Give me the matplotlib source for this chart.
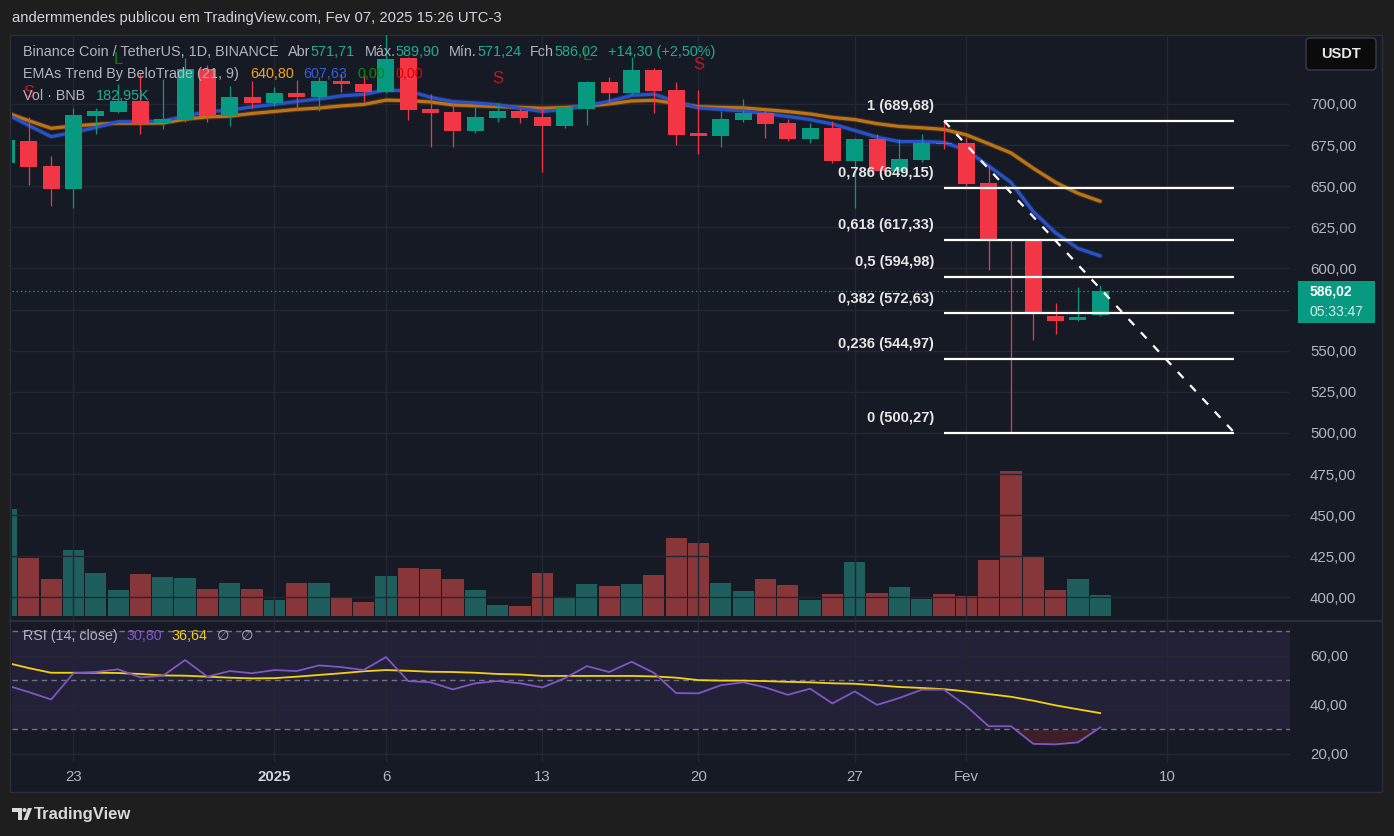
import matplotlib
matplotlib.use('Agg')
import matplotlib.pyplot as plt
import numpy as np
from matplotlib.patches import Rectangle, FancyBboxPatch, Polygon, Circle
from matplotlib.lines import Line2D
from matplotlib.transforms import IdentityTransform
from matplotlib.ticker import FuncFormatter

plt.rcParams['font.family'] = ['Liberation Sans', 'DejaVu Sans']
plt.rcParams['lines.scale_dashes'] = False

# ---------------- data (daily candles, Dec 20 2024 .. Feb 7 2025) ----------------
opens = [664.1, 677.5, 662.3, 648.5, 692.7, 695.3, 701.8, 688.3, 690.3, 721.3,
         692.7, 704.1, 700.8, 706.9, 704.4, 714.2, 712.2, 707.5, 727.8, 697.0,
         695.1, 683.8, 691.7, 695.7, 692.1, 686.8, 697.0, 713.6, 706.5, 720.7,
         708.5, 682.6, 680.5, 690.3, 694.7, 688.6, 678.7, 685.6, 665.5, 678.7,
         659.5, 666.0, 676.5, 676.5, 652.2, 617.6, 616.7, 571.1, 568.5, 571.71]
highs = [682.0, 691.9, 668.4, 697.4, 697.4, 712.0, 718.7, 715.0, 727.8, 723.7,
         710.9, 714.2, 710.5, 714.6, 716.6, 718.8, 718.7, 742.6, 728.5, 706.1,
         700.4, 698.0, 700.4, 697.4, 698.4, 698.8, 714.2, 716.6, 728.8, 721.7,
         713.6, 708.5, 695.9, 703.0, 696.4, 690.7, 688.3, 689.7, 679.5, 681.8,
         678.7, 681.8, 688.9, 680.1, 662.3, 617.9, 617.9, 579.2, 588.9, 589.90]
lows = [660.0, 650.8, 638.2, 637.0, 681.8, 694.7, 681.8, 684.8, 689.0, 689.2,
        686.6, 697.8, 699.0, 697.0, 695.9, 707.5, 701.4, 706.5, 690.3, 674.0,
        674.0, 682.2, 688.9, 688.6, 658.8, 685.6, 687.2, 700.0, 706.1, 694.3,
        675.1, 669.6, 674.0, 689.2, 679.5, 677.7, 676.5, 664.0, 637.0, 659.0,
        658.5, 665.0, 672.7, 649.7, 599.1, 500.27, 556.5, 560.2, 568.0, 571.24]
closes = [678.1, 661.9, 648.5, 693.3, 695.7, 702.0, 687.8, 690.9, 721.1, 692.7,
          704.1, 700.8, 706.7, 704.4, 714.2, 712.0, 707.5, 727.2, 696.4, 694.7,
          683.8, 692.1, 695.7, 691.7, 686.8, 698.0, 713.6, 706.5, 720.7, 707.9,
          681.2, 680.5, 690.9, 694.7, 687.8, 678.7, 685.6, 665.5, 678.7, 659.5,
          666.6, 676.5, 675.7, 651.4, 616.7, 617.0, 572.3, 568.3, 570.6, 586.02]
volume_k = [931, 505, 322, 574, 374, 226, 365, 339, 331, 235,
            287, 235, 139, 287, 287, 165, 122, 348, 418, 409,
            322, 226, 96, 87, 374, 157, 278, 261, 278, 357,
            679, 635, 287, 218, 322, 270, 139, 191, 470, 200,
            252, 148, 191, 174, 487, 1262, 522, 226, 322, 183]
ema21 = [694.8, 689.8, 685.2, 686.6, 687.6, 688.3, 688.3, 688.4, 690.7, 692.1,
         692.6, 694.2, 695.4, 696.7, 697.5, 698.8, 699.7, 702.3, 702.0, 701.2,
         699.4, 698.9, 698.4, 697.9, 697.4, 697.8, 698.6, 700.0, 701.8, 702.2,
         700.3, 698.3, 697.9, 697.6, 696.5, 695.4, 693.9, 691.8, 690.5, 688.0,
         686.3, 685.5, 684.5, 681.2, 675.8, 670.2, 660.9, 652.3, 645.7, 640.80]
ema9 = [693.9, 686.9, 680.1, 682.7, 685.7, 689.2, 689.2, 689.5, 692.7, 695.3,
        696.2, 698.2, 699.7, 701.5, 703.0, 704.9, 705.8, 708.5, 707.9, 704.0,
        701.4, 700.6, 699.5, 697.4, 695.4, 696.7, 699.1, 701.5, 705.2, 705.9,
        701.5, 697.6, 696.7, 695.7, 694.1, 692.4, 690.5, 687.8, 683.9, 679.8,
        677.1, 677.1, 676.6, 672.0, 662.3, 652.3, 634.5, 621.6, 612.2, 607.63]
rsi = [48.0, 45.2, 42.2, 52.9, 53.4, 54.5, 51.2, 51.8, 58.3, 51.5,
       53.8, 52.9, 54.2, 53.8, 56.1, 55.4, 54.2, 59.5, 49.7, 49.2,
       46.3, 48.8, 49.7, 48.8, 47.1, 50.8, 55.8, 53.4, 57.6, 53.1,
       44.8, 44.7, 48.0, 49.2, 47.1, 44.1, 46.6, 40.6, 45.5, 40.0,
       42.8, 46.2, 46.2, 39.5, 31.3, 31.3, 24.1, 23.9, 24.7, 30.80]
rsi_ma = [57.2, 55.0, 53.1, 53.1, 53.1, 53.0, 52.6, 52.0, 51.9, 51.5,
          51.1, 50.8, 50.9, 51.5, 52.2, 52.9, 53.7, 54.2, 53.9, 53.5,
          53.4, 53.1, 52.6, 52.4, 51.8, 51.8, 51.8, 51.8, 51.8, 51.6,
          51.1, 50.1, 49.9, 49.9, 49.7, 49.4, 49.2, 48.8, 48.6, 48.0,
          47.3, 46.9, 46.4, 45.5, 44.4, 43.3, 41.7, 39.8, 38.2, 36.64]
signal_idx = [1, 5, 22, 26, 31]
signal_txt = ['S', 'L', 'S', 'L', 'S']
fib_ratio = ['1', '0,786', '0,618', '0,5', '0,382', '0,236', '0']
fib_level = [689.68, 649.15, 617.33, 594.98, 572.63, 544.97, 500.27]
fib_start, fib_end = 42, 55
tick_pos = [3, 12, 17, 24, 31, 38, 43, 52]
tick_labels = ['23', '2025', '6', '13', '20', '27', 'Fev', '10']
price_ticks = [400, 425, 450, 475, 500, 525, 550, 575, 600, 625, 650, 675, 700]
rsi_ticks = [20, 40, 60]
last_price = 586.02

# ---------------- style ----------------
W, H = 1394, 836
FRAME = '#1e1e1e'
BG = '#161a25'
GRID = '#232734'
GRAY = '#b2b5be'
UP = '#089981'
DN = '#f23645'
VUP = '#1e5e5c'
VDN = '#87373a'
TEAL_T = '#22ab94'
FS = 10.8
HFS = 10.4

idx = np.arange(len(closes))
o = np.array(opens); c = np.array(closes); hi = np.array(highs); lo = np.array(lows)
up = c >= o

fig = plt.figure(figsize=(W / 100, H / 100), dpi=100)
fig.patch.set_facecolor(FRAME)
ID = IdentityTransform()

fig.patches.append(Rectangle((10, H - 792), 1372, 757, transform=ID, facecolor=BG,
                             edgecolor='#2a2e39', lw=1, zorder=-1))

XL, XR = 0.246, 57.5
fmt = FuncFormatter(lambda v, p: f"{v:.2f}".replace('.', ','))

main_rect = [12 / W, 1 - 620 / H, 1278 / W, 585 / H]
ax_vol = fig.add_axes(main_rect, zorder=1)
ax = fig.add_axes(main_rect, zorder=2)
for a in (ax_vol, ax):
    a.set_facecolor('none')
    a.set_xlim(XL, XR)
ax_vol.axis('off')
ax_vol.set_ylim(-35, 5061)
ax_vol.bar(idx, volume_k, width=0.95, color=[VUP if u else VDN for u in up], lw=0)

for s in ax.spines.values():
    s.set_visible(False)
ax.set_ylim(386.3, 741.9)
ax.set_yticks(price_ticks)
ax.yaxis.set_major_formatter(fmt)
ax.yaxis.tick_right()
ax.tick_params(axis='y', length=0, pad=14.4, labelsize=FS, labelcolor=GRAY)
ax.set_xticks(tick_pos)
ax.tick_params(axis='x', length=0, labelbottom=False)
ax.grid(True, color=GRID, lw=1)
ax.set_axisbelow(True)

# EMAs
ax.plot(idx, ema21, color='#be7314', lw=3.8, alpha=0.25, zorder=2, solid_capstyle='round')
ax.plot(idx, ema21, color='#be7314', lw=2.3, zorder=2.1, solid_capstyle='round')
ax.plot(idx, ema9, color='#2a52c8', lw=3.8, alpha=0.25, zorder=2, solid_capstyle='round')
ax.plot(idx, ema9, color='#2a52c8', lw=2.3, zorder=2.1, solid_capstyle='round')

# candles
ccols = [UP if u else DN for u in up]
ax.vlines(idx, lo, hi, colors=ccols, lw=0.9, zorder=3)
body_lo = np.minimum(o, c)
body_h = np.maximum(np.abs(c - o), 0.7)
ax.bar(idx, body_h, bottom=body_lo, width=0.76, color=ccols, lw=0, zorder=3.1)

# L / S signals
for i, t in zip(signal_idx, signal_txt):
    ax.annotate(t, xy=(i, hi[i]), xytext=(0, 18), textcoords='offset points',
                ha='center', va='center', fontsize=12,
                color='#0d7a0d' if t == 'L' else '#b71c1c', zorder=4)

# last price dotted line
ax.axhline(last_price, color=UP, lw=0.9, ls=(0, (1, 2)), zorder=2.5)

# fibonacci
for r, lv in zip(fib_ratio, fib_level):
    ax.plot([fib_start, fib_end], [lv, lv], color='white', lw=1.6, zorder=5, solid_capstyle='butt')
    ax.annotate(f"{r} ({lv:.2f})".replace('.', ','), xy=(fib_start, lv), xytext=(-7.2, 10.5),
                textcoords='offset points', ha='right', va='center', fontsize=10.6,
                fontweight='bold', color='#e6e6e6', zorder=6)
ax.plot([fib_start, fib_end], [fib_level[0], fib_level[-1]], color='white', lw=1.6,
        dashes=(6, 7), zorder=5)

# ---------------- RSI ----------------
ax_r = fig.add_axes([12 / W, 1 - 762 / H, 1278 / W, 140 / H], zorder=2)
ax_r.set_facecolor('none')
for s in ax_r.spines.values():
    s.set_visible(False)
ax_r.set_xlim(XL, XR)
ax_r.set_ylim(16.7, 73.8)
ax_r.axhspan(30, 70, color='#7e57c2', alpha=0.12, lw=0, zorder=0.2)
for lv in (30, 50, 70):
    ax_r.axhline(lv, color='#6f7280', lw=1, dashes=(4, 3), zorder=1)
ax_r.set_yticks(rsi_ticks)
ax_r.yaxis.set_major_formatter(fmt)
ax_r.yaxis.tick_right()
ax_r.tick_params(axis='y', length=0, pad=14.4, labelsize=FS, labelcolor=GRAY)
ax_r.set_xticks(tick_pos)
ax_r.set_xticklabels(tick_labels)
ax_r.tick_params(axis='x', length=0, pad=6, labelsize=FS, labelcolor=GRAY)
ax_r.get_xticklabels()[1].set_fontweight('bold')
ax_r.get_xticklabels()[1].set_color('#d1d4dc')
ax_r.grid(True, color=GRID, lw=1)
ax_r.set_axisbelow(True)
rsi_a = np.array(rsi)
ax_r.fill_between(idx, rsi_a, 30, where=rsi_a < 30, interpolate=True, color=DN, alpha=0.18, lw=0, zorder=1.5)
ax_r.plot(idx, rsi_ma, color='#f5d20f', lw=1.3, zorder=3)
ax_r.plot(idx, rsi, color='#7e57c2', lw=1.3, zorder=3.1)

# separator
fig.add_artist(Line2D([10, 1382], [H - 620.5, H - 620.5], transform=ID, color='#2a2e39', lw=1.6))

# ---------------- texts ----------------
renderer = fig.canvas.get_renderer()


def seg_text(x, y, parts, size=HFS):
    for s, col, gap in parts:
        t = fig.text(x, H - y, s, color=col, fontsize=size, ha='left', va='center',
                     transform=ID, zorder=8)
        x += t.get_window_extent(renderer=renderer).width + gap


fig.text(12, H - 18, "andermmendes publicou em TradingView.com, Fev 07, 2025 15:26 UTC-3",
         transform=ID, color='#d1d4dc', fontsize=10.7, ha='left', va='center')

seg_text(23, 52, [("Binance Coin / TetherUS, 1D, BINANCE", GRAY, 9), ("Abr", GRAY, 0),
                  ("571,71", TEAL_T, 10), ("Máx.", GRAY, 0), ("589,90", TEAL_T, 10),
                  ("Mín.", GRAY, 0), ("571,24", TEAL_T, 9), ("Fch", GRAY, 0),
                  ("586,02", TEAL_T, 10), ("+14,30 (+2,50%)", TEAL_T, 0)])
seg_text(23, 74, [("EMAs Trend By BeloTrade (21, 9)", GRAY, 11), ("640,80", '#f7a21b', 10),
                  ("607,63", '#2f5fe0', 10), ("0,00", '#0a8a0a', 10), ("0,00", '#e60000', 0)])
seg_text(23, 96, [("Vol · BNB", GRAY, 11), ("182,95K", TEAL_T, 0)])
seg_text(23, 636, [("RSI (14, close)", GRAY, 9), ("30,80", '#7e57c2', 9), ("36,64", '#f5d20f', 10),
                   ("\u2205", GRAY, 11), ("\u2205", GRAY, 0)], size=10.3)

# last price box
fig.patches.append(Rectangle((1298, H - 323), 77, 42, transform=ID, facecolor=UP, lw=0, zorder=6))
fig.text(1310, H - 292, "586,02", transform=ID, color='white', fontsize=10, fontweight='bold',
         ha='left', va='center', zorder=7)
fig.text(1310, H - 312, "05:33:47", transform=ID, color='#d6efe9', fontsize=10,
         ha='left', va='center', zorder=7)

# USDT box
fig.patches.append(FancyBboxPatch((1306, H - 70), 70, 32, boxstyle='round,pad=0,rounding_size=4',
                                  transform=ID, facecolor='#0b0b0c', edgecolor='#3b3d44', lw=1, zorder=6))
fig.text(1341, H - 54, "USDT", transform=ID, color='#e8e8e8', fontsize=10.5, fontweight='bold',
         ha='center', va='center', zorder=7)

# TradingView logo
LOGO = '#d9d9d9'
fig.patches.append(Polygon([(12, H - 808), (21.5, H - 808), (21.5, H - 820), (17.5, H - 820),
                            (17.5, H - 812), (12, H - 812)], closed=True, transform=ID,
                           facecolor=LOGO, lw=0, zorder=6))
fig.patches.append(Circle((24.5, H - 810), 2.0, transform=ID, facecolor=LOGO, lw=0, zorder=6))
fig.patches.append(Polygon([(23.5, H - 820), (27.5, H - 820), (32, H - 808), (28, H - 808)],
                           closed=True, transform=ID, facecolor=LOGO, lw=0, zorder=6))
fig.text(34, H - 814, "TradingView", transform=ID, color=LOGO, fontsize=12, fontweight='bold',
         ha='left', va='center')

fig.savefig('out.png', dpi=100, facecolor=fig.get_facecolor())
